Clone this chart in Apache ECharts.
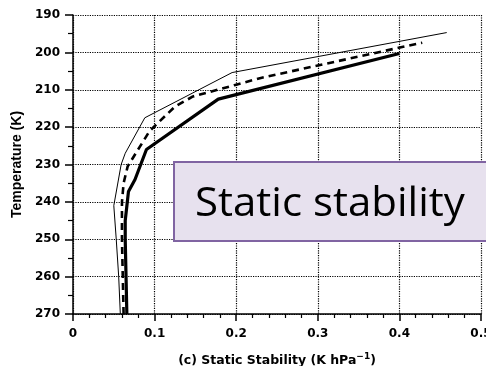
<!DOCTYPE html>
<html>
<head>
<meta charset="utf-8">
<script src="https://cdn.jsdelivr.net/npm/echarts@6/dist/echarts.min.js"></script>
<style>
html,body{margin:0;padding:0;background:#fff;overflow:hidden;}
#chart{width:486px;height:366px;}
</style>
</head>
<body>
<div id="chart"></div>
<script>
// Temperature levels (K) and static stability values (K hPa^-1) per curve
var thinTemp  = [270, 260, 250, 241, 230, 227, 217.5, 205.4, 194.7];
var thinVal   = [0.058, 0.056, 0.053, 0.050, 0.059, 0.064, 0.088, 0.195, 0.458];
var dashTemp  = [270, 260, 250, 240, 235, 230.5, 221, 214.5, 211.8, 208.7, 206.9, 197.4];
var dashVal   = [0.062, 0.061, 0.060, 0.060, 0.062, 0.067, 0.094, 0.125, 0.147, 0.199, 0.229, 0.428];
var thickTemp = [270, 260, 250, 245, 237.2, 234, 226, 212.5, 200.3];
var thickVal  = [0.066, 0.065, 0.064, 0.064, 0.068, 0.076, 0.090, 0.178, 0.400];
var yTicks = [190, 200, 210, 220, 230, 240, 250, 260, 270];
var xTicks = [0, 0.1, 0.2, 0.3, 0.4, 0.5];
var boxText = 'Static stability';
var xTitle = '(c) Static Stability (K hPa';
var yTitle = 'Temperature (K)';

function pairs(v, t){ return v.map(function(x,i){ return [x, t[i]]; }); }

var chart = echarts.init(document.getElementById('chart'), null, {renderer:'canvas'});
var tickFont = {fontFamily:'DejaVu Sans', fontWeight:'bold', fontSize:12, color:'#000'};
var gridLineStyle = {type:'dotted', color:'#000', width:1.2};
chart.setOption({
  animation:false,
  backgroundColor:'#fff',
  grid:{left:73, right:5, top:15, bottom:52, containLabel:false, outerBoundsMode:'none'},
  xAxis:{
    type:'value', min:xTicks[0], max:xTicks[xTicks.length-1], interval:0.1,
    name: xTitle + '{sup|−1}{b|)}',
    nameLocation:'middle', nameGap:38,
    nameTextStyle:{fontFamily:'DejaVu Sans', fontWeight:'bold', fontSize:12.5, color:'#000',
      rich:{sup:{fontFamily:'DejaVu Sans', fontWeight:'bold', fontSize:9, color:'#000', padding:[0,0,8,0]},
            b:{fontFamily:'DejaVu Sans', fontWeight:'bold', fontSize:12.5, color:'#000'}}},
    axisLine:{show:true, onZero:false, lineStyle:{color:'#000', width:1.5}},
    axisTick:{show:true, inside:false, length:7, lineStyle:{color:'#000', width:1.5}},
    minorTick:{show:true, splitNumber:5, length:4, lineStyle:{color:'#000', width:1.2}},
    splitLine:{show:true, lineStyle:gridLineStyle},
    axisLabel:Object.assign({margin:14, formatter:function(v){return String(+v.toFixed(1));}}, tickFont)
  },
  yAxis:{
    type:'value', inverse:true, min:yTicks[0], max:yTicks[yTicks.length-1], interval:10,
    name:yTitle, nameLocation:'middle', nameGap:46,
    nameTextStyle:{fontFamily:'Liberation Sans', fontWeight:'bold', fontSize:14, color:'#000'},
    axisLine:{show:true, onZero:false, lineStyle:{color:'#000', width:1.5}},
    axisTick:{show:true, inside:false, length:8, lineStyle:{color:'#000', width:1.5}},
    minorTick:{show:true, splitNumber:2, length:5, lineStyle:{color:'#000', width:1.2}},
    splitLine:{show:true, lineStyle:gridLineStyle},
    axisLabel:Object.assign({margin:13}, tickFont)
  },
  series:[
    {type:'line', data:pairs(thinVal, thinTemp), symbol:'none', lineStyle:{color:'#000', width:1}, z:3},
    {type:'line', data:pairs(dashVal, dashTemp), symbol:'none', lineStyle:{color:'#000', width:2.6, type:[7,5]}, z:3},
    {type:'line', data:pairs(thickVal, thickTemp), symbol:'none', lineStyle:{color:'#000', width:3.2}, z:3}
  ],
  graphic:[
    {type:'rect', z:100, shape:{x:174, y:162, width:330, height:79},
     style:{fill:'#e7e1ee', stroke:'#8064a2', lineWidth:2}},
    {type:'text', z:101, x:195, y:205, scaleX:1.05,
     style:{text:boxText, fontFamily:'Open Sans', fontSize:40, fill:'#000', textAlign:'left', textVerticalAlign:'middle', verticalAlign:'middle'}}
  ]
});
</script>
</body>
</html>
